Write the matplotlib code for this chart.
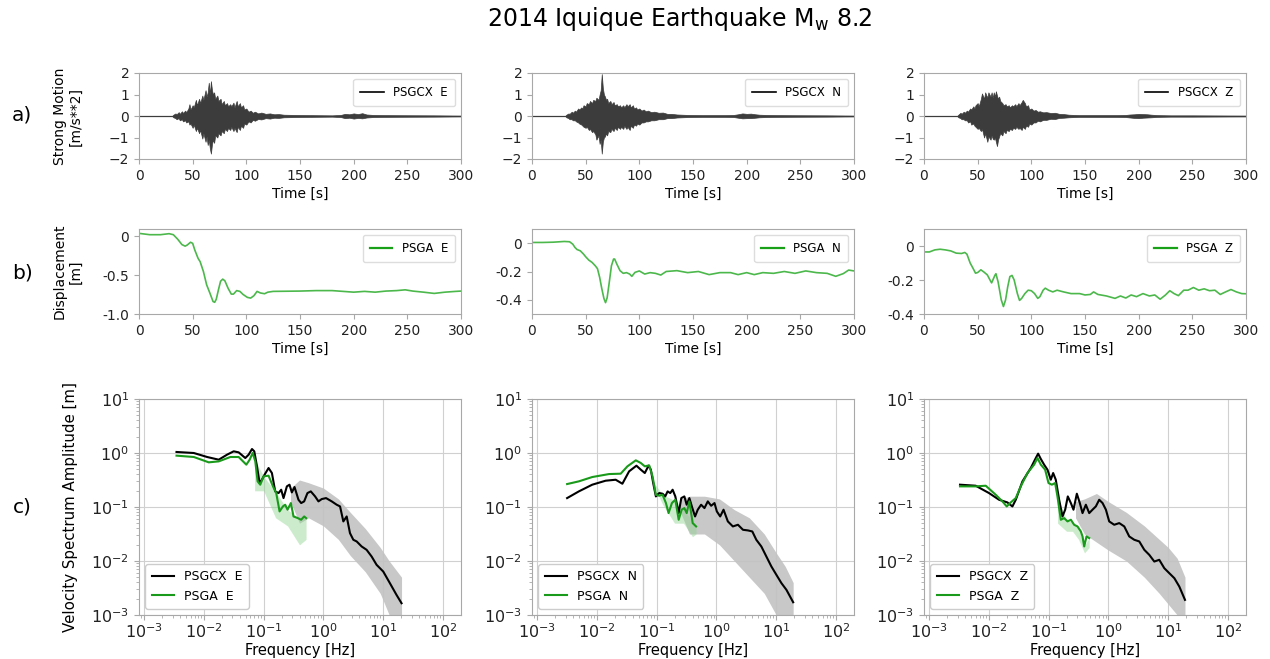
import numpy as np
import matplotlib
matplotlib.use("Agg")
import matplotlib.pyplot as plt

plt.rcParams['font.family'] = ['DejaVu Sans']

# ---------------- data -----------------
comps = ["E", "N", "Z"]

# Strong motion envelope: shared time grid (s), upper / lower extent (m/s**2)
sm_time = [0, 31, 32, 34, 35, 37, 38, 40, 41, 43,
           44, 46, 47, 48, 50, 51, 53, 54, 56, 57,
           59, 60, 62, 63, 64, 65, 66, 67, 68, 69,
           70, 71, 73, 74, 76, 77, 79, 80, 82, 83,
           85, 86, 88, 89, 91, 92, 94, 95, 97, 98,
           100, 102, 104, 106, 108, 111, 114, 118, 122, 126,
           130, 135, 145, 160, 180, 188, 192, 196, 200, 204,
           208, 212, 218, 230, 250, 275, 300]
sm_up = {
    "E": [0.01, 0.01, 0.06, 0.12, 0.08, 0.18, 0.1, 0.22, 0.14, 0.25,
          0.18, 0.35, 0.55, 0.3, 0.5, 0.4, 0.75, 0.5, 0.8, 0.6,
          0.95, 0.75, 1.2, 0.9, 1.1, 1.55, 1.0, 1.62, 1.2, 1.0,
          1.1, 0.8, 0.95, 0.7, 0.8, 0.55, 0.7, 0.5, 0.6, 0.45,
          0.55, 0.45, 0.62, 0.4, 0.7, 0.45, 0.6, 0.4, 0.5, 0.3,
          0.35, 0.2, 0.25, 0.15, 0.2, 0.12, 0.16, 0.1, 0.12, 0.08,
          0.09, 0.06, 0.05, 0.04, 0.03, 0.05, 0.1, 0.08, 0.12, 0.09,
          0.13, 0.07, 0.05, 0.04, 0.035, 0.03, 0.02],
    "N": [0.01, 0.01, 0.06, 0.12, 0.1, 0.2, 0.15, 0.25, 0.2, 0.35,
          0.3, 0.4, 0.35, 0.5, 0.45, 0.6, 0.55, 0.7, 0.6, 0.75,
          0.7, 0.85, 0.75, 1.0, 1.2, 1.95, 1.3, 1.0, 0.9, 0.75,
          0.8, 0.6, 0.7, 0.55, 0.65, 0.5, 0.55, 0.45, 0.5, 0.4,
          0.5, 0.4, 0.55, 0.45, 0.55, 0.4, 0.5, 0.35, 0.4, 0.3,
          0.35, 0.25, 0.3, 0.22, 0.25, 0.18, 0.2, 0.15, 0.16, 0.1,
          0.1, 0.07, 0.05, 0.04, 0.04, 0.05, 0.08, 0.12, 0.1, 0.11,
          0.08, 0.06, 0.05, 0.04, 0.035, 0.03, 0.02],
    "Z": [0.01, 0.01, 0.06, 0.15, 0.1, 0.2, 0.15, 0.25, 0.2, 0.35,
          0.3, 0.45, 0.35, 0.5, 0.6, 0.45, 0.8, 1.05, 0.8, 1.1,
          0.85, 1.1, 0.9, 1.1, 0.85, 1.1, 0.9, 1.15, 0.95, 0.8,
          0.9, 0.7, 0.6, 0.5, 0.55, 0.45, 0.5, 0.4, 0.5, 0.45,
          0.55, 0.45, 0.6, 0.5, 0.65, 0.75, 0.6, 0.45, 0.5, 0.3,
          0.35, 0.25, 0.28, 0.2, 0.22, 0.17, 0.18, 0.14, 0.15, 0.1,
          0.09, 0.06, 0.04, 0.04, 0.04, 0.05, 0.07, 0.08, 0.1, 0.09,
          0.08, 0.06, 0.04, 0.03, 0.03, 0.025, 0.02],
}
sm_lo = {
    "E": [-0.01, -0.01, -0.06, -0.1, -0.15, -0.1, -0.2, -0.15, -0.25, -0.2,
          -0.3, -0.25, -0.4, -0.35, -0.55, -0.4, -0.7, -0.55, -0.8, -0.65,
          -1.05, -0.8, -1.2, -0.95, -1.35, -1.1, -1.5, -1.75, -1.3, -1.1,
          -1.25, -0.9, -1.0, -0.8, -0.9, -0.7, -0.8, -0.6, -0.7, -0.55,
          -0.65, -0.5, -0.7, -0.55, -0.75, -0.5, -0.65, -0.45, -0.55, -0.35,
          -0.4, -0.25, -0.3, -0.18, -0.22, -0.14, -0.16, -0.1, -0.12, -0.08,
          -0.09, -0.06, -0.05, -0.04, -0.03, -0.05, -0.1, -0.08, -0.12, -0.09,
          -0.11, -0.07, -0.05, -0.04, -0.035, -0.03, -0.02],
    "N": [-0.01, -0.01, -0.06, -0.1, -0.15, -0.15, -0.2, -0.2, -0.25, -0.3,
          -0.35, -0.4, -0.45, -0.5, -0.55, -0.5, -0.65, -0.6, -0.75, -0.7,
          -0.85, -1.1, -0.9, -1.3, -1.1, -1.75, -1.2, -1.0, -0.95, -0.8,
          -0.9, -0.7, -0.75, -0.6, -0.7, -0.55, -0.65, -0.5, -0.6, -0.5,
          -0.6, -0.45, -0.6, -0.5, -0.65, -0.45, -0.55, -0.4, -0.45, -0.35,
          -0.4, -0.3, -0.3, -0.25, -0.25, -0.2, -0.2, -0.15, -0.15, -0.1,
          -0.1, -0.07, -0.05, -0.04, -0.04, -0.05, -0.08, -0.11, -0.1, -0.1,
          -0.08, -0.06, -0.05, -0.04, -0.035, -0.03, -0.02],
    "Z": [-0.01, -0.01, -0.06, -0.1, -0.15, -0.15, -0.2, -0.2, -0.3, -0.25,
          -0.4, -0.35, -0.45, -0.5, -0.6, -0.55, -0.7, -0.6, -1.0, -0.8,
          -1.2, -0.95, -1.1, -0.9, -1.05, -1.1, -1.0, -1.2, -1.4, -1.1,
          -0.95, -0.8, -0.9, -0.7, -0.8, -0.65, -0.7, -0.6, -0.65, -0.55,
          -0.6, -0.5, -0.6, -0.55, -0.65, -0.5, -0.6, -0.45, -0.5, -0.35,
          -0.4, -0.3, -0.3, -0.22, -0.25, -0.18, -0.18, -0.13, -0.14, -0.09,
          -0.08, -0.06, -0.04, -0.04, -0.04, -0.05, -0.07, -0.09, -0.1, -0.08,
          -0.07, -0.06, -0.04, -0.03, -0.03, -0.025, -0.02],
}

# Displacement (time s, m)
d_t = {
    "E": [0, 10, 20, 28, 32, 36, 40, 43, 45, 48, 50, 52, 55, 57, 60, 63, 66, 69, 70.5, 72, 74, 76, 78, 80, 83, 86, 88, 91, 94, 97, 101, 104, 107, 110, 113, 117, 120, 125, 150, 165, 180, 200, 210, 220, 230, 240, 248, 255, 265, 275, 285, 295, 300],
    "N": [0, 10, 20, 30, 35, 38, 40, 42, 45, 48, 50, 53, 56, 59, 61, 63, 65, 67, 68.5, 70, 72, 74, 76, 77, 79, 82, 85, 88, 91, 93, 96, 100, 105, 110, 115, 120, 125, 135, 145, 155, 165, 175, 185, 192, 200, 207, 215, 225, 235, 245, 255, 265, 275, 283, 290, 295, 300],
    "Z": [0, 5, 10, 15, 20, 25, 30, 35, 38, 40, 43, 46, 48, 50, 53, 56, 59, 62, 63, 66, 67, 69, 72, 74, 76, 78, 80, 82, 84, 87, 89, 91, 94, 97, 100, 103, 106, 108, 111, 113, 116, 120, 124, 130, 137, 145, 150, 155, 158, 162, 170, 178, 183, 188, 193, 198, 204, 210, 215, 220, 225, 229, 233, 237, 242, 246, 251, 256, 261, 266, 271, 276, 281, 286, 291, 296, 300],
}
d_v = {
    "E": [0.034, 0.017, 0.017, 0.03, 0.017, -0.04, -0.11, -0.13, -0.115, -0.08, -0.094, -0.18, -0.285, -0.33, -0.455, -0.625, -0.73, -0.84, -0.85, -0.81, -0.69, -0.58, -0.553, -0.574, -0.67, -0.745, -0.745, -0.70, -0.71, -0.75, -0.787, -0.796, -0.766, -0.71, -0.73, -0.74, -0.72, -0.71, -0.706, -0.70, -0.70, -0.72, -0.71, -0.72, -0.706, -0.70, -0.69, -0.706, -0.72, -0.736, -0.72, -0.71, -0.706],
    "N": [0.005, 0.005, 0.007, 0.012, 0.01, -0.007, -0.03, -0.045, -0.054, -0.077, -0.096, -0.12, -0.136, -0.16, -0.18, -0.24, -0.32, -0.39, -0.42, -0.386, -0.276, -0.16, -0.112, -0.112, -0.147, -0.194, -0.213, -0.208, -0.218, -0.234, -0.206, -0.196, -0.218, -0.208, -0.213, -0.225, -0.20, -0.194, -0.208, -0.20, -0.222, -0.208, -0.208, -0.222, -0.208, -0.222, -0.208, -0.213, -0.20, -0.213, -0.196, -0.208, -0.213, -0.234, -0.215, -0.19, -0.196],
    "Z": [-0.035, -0.035, -0.023, -0.019, -0.023, -0.029, -0.042, -0.044, -0.038, -0.048, -0.10, -0.135, -0.16, -0.156, -0.14, -0.154, -0.17, -0.206, -0.217, -0.173, -0.163, -0.21, -0.317, -0.356, -0.317, -0.24, -0.18, -0.173, -0.20, -0.28, -0.32, -0.308, -0.28, -0.26, -0.263, -0.28, -0.308, -0.298, -0.26, -0.248, -0.26, -0.27, -0.26, -0.27, -0.28, -0.28, -0.288, -0.285, -0.27, -0.285, -0.294, -0.308, -0.294, -0.306, -0.288, -0.298, -0.28, -0.294, -0.288, -0.313, -0.288, -0.263, -0.28, -0.292, -0.26, -0.26, -0.244, -0.26, -0.252, -0.263, -0.26, -0.285, -0.27, -0.256, -0.27, -0.28, -0.281],
}
d_ylim = {"E": (-1.0, 0.09), "N": (-0.5, 0.1), "Z": (-0.4, 0.1)}
d_ticks = {"E": [0, -0.5, -1.0], "N": [0, -0.2, -0.4], "Z": [0, -0.2, -0.4]}
d_ticklabels = {"E": ["0", "-0.5", "-1.0"], "N": ["0", "-0.2", "-0.4"], "Z": ["0", "-0.2", "-0.4"]}

# Velocity spectra, smoothed: log10(freq Hz), log10(amplitude m)
cx_lf = {
    "E": [-2.456, -2.167, -1.944, -1.75, -1.611, -1.5, -1.417, -1.306, -1.25, -1.194, -1.156, -1.111, -1.067, -1.028, -0.983, -0.917, -0.861, -0.806, -0.75, -0.706, -0.667, -0.611, -0.567, -0.528, -0.483, -0.417, -0.372, -0.322, -0.267, -0.211, -0.139, -0.083, -0.028, 0.044, 0.139, 0.222, 0.278, 0.333, 0.389, 0.444, 0.5, 0.556, 0.639, 0.722, 0.806, 0.889, 1.0, 1.111, 1.222, 1.306],
    "N": [-2.496, -2.3, -2.076, -1.852, -1.684, -1.572, -1.46, -1.337, -1.264, -1.197, -1.135, -1.096, -1.057, -1.012, -0.956, -0.9, -0.856, -0.816, -0.772, -0.732, -0.687, -0.631, -0.587, -0.536, -0.497, -0.452, -0.408, -0.357, -0.312, -0.256, -0.2, -0.144, -0.088, -0.032, 0.007, 0.063, 0.119, 0.191, 0.275, 0.36, 0.444, 0.528, 0.6, 0.667, 0.751, 0.835, 0.919, 1.003, 1.087, 1.171, 1.283],
    "Z": [-2.481, -2.219, -1.996, -1.828, -1.689, -1.605, -1.549, -1.437, -1.298, -1.214, -1.175, -1.13, -1.075, -1.019, -0.963, -0.924, -0.88, -0.824, -0.768, -0.723, -0.679, -0.628, -0.584, -0.528, -0.478, -0.433, -0.377, -0.321, -0.266, -0.21, -0.154, -0.098, -0.042, 0.013, 0.097, 0.181, 0.265, 0.348, 0.432, 0.516, 0.6, 0.683, 0.767, 0.85, 0.934, 1.018, 1.102, 1.185, 1.28],
}
cx_la = {
    "E": [0.019, 0.0, -0.074, -0.124, -0.031, 0.031, 0.012, -0.093, -0.031, 0.074, 0.031, -0.247, -0.556, -0.495, -0.40, -0.278, -0.371, -0.711, -0.742, -0.68, -0.835, -0.618, -0.587, -0.73, -0.63, -0.866, -0.927, -0.896, -0.742, -0.711, -0.804, -0.896, -0.853, -0.835, -0.896, -0.958, -0.989, -1.267, -1.175, -1.484, -1.607, -1.638, -1.731, -1.793, -1.917, -2.071, -2.195, -2.41, -2.628, -2.782],
    "N": [-0.835, -0.711, -0.587, -0.513, -0.495, -0.569, -0.34, -0.235, -0.309, -0.371, -0.235, -0.309, -0.556, -0.804, -0.742, -0.754, -0.804, -0.711, -0.742, -0.68, -0.804, -1.113, -0.835, -0.804, -0.958, -0.835, -1.0, -1.175, -1.05, -0.958, -1.02, -0.896, -0.977, -0.927, -1.082, -1.175, -1.05, -1.267, -1.36, -1.329, -1.422, -1.434, -1.453, -1.607, -1.731, -1.917, -2.102, -2.257, -2.41, -2.535, -2.764],
    "Z": [-0.587, -0.606, -0.742, -0.866, -0.915, -0.99, -0.866, -0.525, -0.278, -0.093, -0.012, -0.111, -0.216, -0.309, -0.495, -0.371, -0.495, -0.866, -1.175, -1.05, -0.804, -0.927, -1.05, -0.754, -0.927, -1.113, -0.958, -1.113, -1.05, -0.989, -0.866, -0.927, -1.05, -1.267, -1.329, -1.298, -1.36, -1.545, -1.607, -1.638, -1.793, -1.886, -2.01, -1.978, -2.133, -2.226, -2.318, -2.473, -2.72],
}
ga_lf = {
    "E": [-2.456, -2.167, -1.917, -1.75, -1.556, -1.417, -1.289, -1.233, -1.183, -1.139, -1.1, -1.056, -1.0, -0.917, -0.844, -0.789, -0.733, -0.678, -0.639, -0.6, -0.544, -0.5, -0.428, -0.372, -0.322, -0.289],
    "N": [-2.496, -2.3, -2.076, -1.796, -1.6, -1.488, -1.348, -1.264, -1.197, -1.124, -1.068, -1.012, -0.956, -0.9, -0.844, -0.8, -0.744, -0.687, -0.631, -0.581, -0.536, -0.497, -0.452, -0.397, -0.34],
    "Z": [-2.481, -2.219, -2.051, -1.884, -1.772, -1.7, -1.633, -1.549, -1.465, -1.354, -1.242, -1.186, -1.13, -1.058, -1.002, -0.946, -0.891, -0.852, -0.796, -0.74, -0.684, -0.628, -0.573, -0.517, -0.461, -0.433, -0.405, -0.366, -0.321],
}
ga_la = {
    "E": [-0.049, -0.074, -0.173, -0.155, -0.074, -0.074, -0.216, -0.124, 0.0, -0.155, -0.525, -0.587, -0.433, -0.42, -0.618, -0.742, -1.082, -0.99, -0.958, -1.05, -0.927, -1.175, -1.206, -1.236, -1.175, -1.206],
    "N": [-0.575, -0.525, -0.445, -0.39, -0.383, -0.247, -0.136, -0.185, -0.247, -0.229, -0.433, -0.773, -0.791, -0.773, -0.927, -1.113, -0.927, -0.865, -1.236, -1.05, -1.02, -1.113, -0.896, -1.298, -1.36],
    "Z": [-0.618, -0.618, -0.606, -0.773, -0.896, -0.99, -0.915, -0.835, -0.618, -0.371, -0.216, -0.093, -0.216, -0.309, -0.556, -0.587, -0.556, -0.804, -1.236, -1.206, -1.267, -1.236, -1.329, -1.36, -1.453, -1.545, -1.731, -1.545, -1.576],
}
# Raw (unsmoothed) PSGCX spectrum spread: log10 f, upper / lower log10 amplitude
raw_lf = {
    "E": [-0.55, -0.4, -0.25, 0.0, 0.25, 0.45, 0.7, 0.95, 1.1, 1.306],
    "N": [-0.6, -0.45, -0.2, 0.05, 0.3, 0.55, 0.8, 1.0, 1.15, 1.283],
    "Z": [-0.55, -0.4, -0.2, 0.0, 0.3, 0.6, 0.85, 1.0, 1.15, 1.28],
}
raw_up = {
    "E": [-0.65, -0.5, -0.55, -0.65, -0.85, -1.1, -1.4, -1.75, -2.0, -2.3],
    "N": [-0.85, -0.8, -0.8, -0.85, -1.05, -1.2, -1.5, -1.85, -2.1, -2.4],
    "Z": [-0.9, -0.85, -0.75, -0.9, -1.1, -1.35, -1.6, -1.75, -1.95, -2.3],
}
raw_lo = {
    "E": [-0.9, -1.3, -1.2, -1.35, -1.6, -1.9, -2.2, -2.6, -3.0, -3.0],
    "N": [-1.1, -1.5, -1.5, -1.7, -2.0, -2.3, -2.6, -3.0, -3.0, -3.0],
    "Z": [-1.2, -1.5, -1.65, -1.8, -2.0, -2.3, -2.6, -2.8, -3.0, -3.0],
}
# Raw PSGA spectrum spread (light green), lower extent
rawg_lf = {
    "E": [-1.15, -1.0, -0.8, -0.6, -0.4, -0.29],
    "N": [-1.05, -0.9, -0.7, -0.55, -0.4, -0.34],
    "Z": [-0.85, -0.7, -0.6, -0.5, -0.4, -0.321],
}
rawg_lo = {
    "E": [-0.7, -0.7, -1.2, -1.35, -1.7, -1.6],
    "N": [-0.6, -0.95, -1.3, -1.3, -1.55, -1.5],
    "Z": [-1.3, -1.45, -1.45, -1.6, -1.85, -1.75],
}

# ---------------- figure -----------------
W, H = 1270, 659
fig = plt.figure(figsize=(12.7, 6.59), dpi=100)

lefts = [139, 532, 924]
width = 322
rows = {"a": (73, 159), "b": (229, 314), "c": (399, 615)}

def mkax(col, row):
    top, bot = rows[row]
    return fig.add_axes([lefts[col] / W, 1 - bot / H, width / W, (bot - top) / H])

spine_col = "#a8a8a8"
def style(ax, ls=10):
    for s in ax.spines.values():
        s.set_color(spine_col)
        s.set_linewidth(0.8)
    ax.tick_params(colors=spine_col, labelcolor="#222222", labelsize=ls, length=3.5, width=0.8)

black = "#3c3c3c"
green_d = "#4cb84c"
green_s = "#1a9a1a"

for i, c in enumerate(comps):
    # row a
    ax = mkax(i, "a")
    style(ax)
    ax.fill_between(sm_time, sm_lo[c], sm_up[c], color=black, lw=0.5, edgecolor=black)
    ax.plot([0, 300], [0, 0], color=black, lw=0.8, label="PSGCX  " + c)
    ax.set_xlim(0, 300)
    ax.set_ylim(-2, 2)
    ax.set_yticks([-2, -1, 0, 1, 2])
    ax.set_xticks([0, 50, 100, 150, 200, 250, 300])
    ax.set_xlabel("Time [s]", fontsize=10, labelpad=3)
    leg = ax.legend(loc="upper right", fontsize=8.5, handlelength=2.0, borderpad=0.6,
                    framealpha=1, edgecolor="#dddddd", fancybox=True)
    for l in leg.get_lines():
        l.set_color("black")
        l.set_linewidth(1.2)
    if i == 0:
        ax.set_ylabel("Strong Motion\n[m/s**2]", fontsize=10)
        ax.yaxis.set_label_coords(-0.174, 0.5)

    # row b
    ax = mkax(i, "b")
    style(ax)
    ax.plot(d_t[c], d_v[c], color=green_d, lw=1.2, label="PSGA  " + c)
    ax.set_xlim(0, 300)
    ax.set_ylim(*d_ylim[c])
    ax.set_yticks(d_ticks[c])
    ax.set_yticklabels(d_ticklabels[c])
    ax.set_xticks([0, 50, 100, 150, 200, 250, 300])
    ax.set_xlabel("Time [s]", fontsize=10, labelpad=3)
    leg = ax.legend(loc="upper right", fontsize=8.5, handlelength=1.9, borderpad=0.6,
                    framealpha=1, edgecolor="#dddddd")
    for l in leg.get_lines():
        l.set_color("#18a018")
        l.set_linewidth(1.6)
    if i == 0:
        ax.set_ylabel("Displacement\n[m]", fontsize=10)
        ax.yaxis.set_label_coords(-0.174, 0.5)

    # row c
    ax = mkax(i, "c")
    style(ax, ls=11.5)
    ax.tick_params(axis="x", which="major", pad=2)
    ax.set_xscale("log")
    ax.set_yscale("log")
    ax.grid(True, which="major", color="#d0d0d0", lw=0.8)
    ax.set_axisbelow(True)
    rf = 10 ** np.array(raw_lf[c])
    ax.fill_between(rf, 10 ** np.array(raw_lo[c]), 10 ** np.array(raw_up[c]),
                    color="#c2c2c2", alpha=0.9, lw=0)
    gf = 10 ** np.array(rawg_lf[c])
    gi = np.interp(rawg_lf[c], ga_lf[c], ga_la[c])
    ax.fill_between(gf, 10 ** np.array(rawg_lo[c]), 10 ** gi, color="#8fd48f", alpha=0.45, lw=0)
    ax.plot(10 ** np.array(cx_lf[c]), 10 ** np.array(cx_la[c]), color="black", lw=1.5,
            label="PSGCX  " + c)
    ax.plot(10 ** np.array(ga_lf[c]), 10 ** np.array(ga_la[c]), color=green_s, lw=1.5,
            label="PSGA  " + c)
    ax.set_xlim(10 ** -3.083, 10 ** 2.3)
    ax.set_ylim(1e-3, 10)
    ax.set_xlabel("Frequency [Hz]", fontsize=10.5, labelpad=1)
    ax.legend(loc="lower left", fontsize=9, handlelength=1.8, framealpha=1,
              edgecolor="#cccccc", borderpad=0.5)
    ax.tick_params(which="minor", colors=spine_col, length=2)
    if i == 0:
        ax.set_ylabel("Velocity Spectrum Amplitude [m]", fontsize=10.8)
        ax.yaxis.set_label_coords(-0.189, 0.5)

fig.text(22 / W, 1 - 115 / H, "a)", fontsize=14.5, ha="center", va="center")
fig.text(22 / W, 1 - 273 / H, "b)", fontsize=14.5, ha="center", va="center")
fig.text(22 / W, 1 - 507 / H, "c)", fontsize=14.5, ha="center", va="center")
fig.text(679 / W, 1 - 19 / H, r"2014 Iquique Earthquake M$_\mathregular{w}$ 8.2",
         fontsize=17, ha="center", va="center")

fig.savefig("out.png", dpi=100)
